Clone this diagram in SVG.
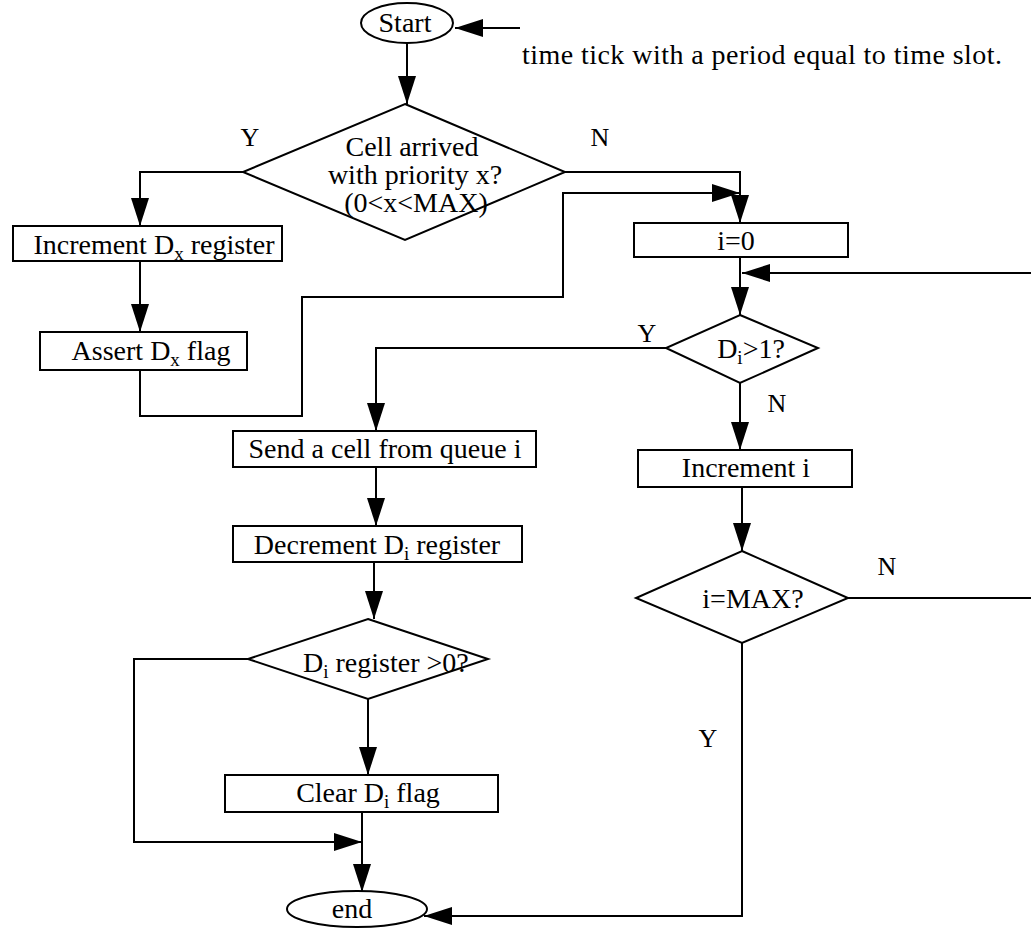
<svg xmlns="http://www.w3.org/2000/svg" width="1031" height="929" viewBox="0 0 1031 929">
  <style>
    .shape { fill: #ffffff; stroke: #000000; stroke-width: 2; }
    .wire { fill: none; stroke: #000000; stroke-width: 2; }
    .txt { font-family: "Liberation Serif", "Times New Roman", serif; font-size: 28px; fill: #000000; }
    .mid { text-anchor: middle; }
    .lbl { font-family: "Liberation Serif", "Times New Roman", serif; font-size: 26px; fill: #000000; text-anchor: middle; }
    .sub { font-size: 19px; }
  </style>
  <defs>
    <marker id="arrow" markerUnits="userSpaceOnUse" markerWidth="28" markerHeight="18" refX="28" refY="9" orient="auto">
      <path d="M0,0 L28,9 L0,18 Z" fill="#000000"/>
    </marker>
  </defs>

  <rect width="1031" height="929" fill="#ffffff"/>

  <!-- connectors -->
  <g id="connectors">
    <path class="wire" d="M520,28 H455" marker-end="url(#arrow)"/>
    <path class="wire" d="M407,43 V104" marker-end="url(#arrow)"/>
    <path class="wire" d="M243,172 H140 V226" marker-end="url(#arrow)"/>
    <path class="wire" d="M140,261 V332" marker-end="url(#arrow)"/>
    <path class="wire" d="M140,370 V416 H302 V297 H563 V193 H740" marker-end="url(#arrow)"/>
    <path class="wire" d="M565,172 H740 V223" marker-end="url(#arrow)"/>
    <path class="wire" d="M740,257 V315" marker-end="url(#arrow)"/>
    <path class="wire" d="M666,348 H376 V431" marker-end="url(#arrow)"/>
    <path class="wire" d="M740,383 V450" marker-end="url(#arrow)"/>
    <path class="wire" d="M742,487 V551" marker-end="url(#arrow)"/>
    <path class="wire" d="M848,598 H1045 V273 H742" marker-end="url(#arrow)"/>
    <path class="wire" d="M376,467 V526" marker-end="url(#arrow)"/>
    <path class="wire" d="M374,562 V619" marker-end="url(#arrow)"/>
    <path class="wire" d="M368,699 V775" marker-end="url(#arrow)"/>
    <path class="wire" d="M248,659 H134 V842 H362" marker-end="url(#arrow)"/>
    <path class="wire" d="M362,812 V892" marker-end="url(#arrow)"/>
    <path class="wire" d="M742,643 V916 H424" marker-end="url(#arrow)"/>
  </g>

  <!-- branch labels -->
  <g id="labels">
    <text class="lbl" x="250" y="146">Y</text>
    <text class="lbl" x="600" y="146">N</text>
    <text class="lbl" x="647" y="342">Y</text>
    <text class="lbl" x="777" y="412">N</text>
    <text class="lbl" x="887" y="575">N</text>
    <text class="lbl" x="708" y="747">Y</text>
  </g>

  <g id="start">
    <ellipse class="shape" cx="407" cy="23" rx="46" ry="20"/>
    <text class="txt mid" x="405" y="32">Start</text>
  </g>

  <g id="tick-note">
    <text class="txt" x="522" y="64" textLength="480" lengthAdjust="spacing">time tick with a period equal to time slot.</text>
  </g>

  <g id="cell-arrived">
    <polygon class="shape" points="405,104 565,172 405,240 243,172"/>
    <text class="txt mid" x="412" y="156" font-size="27">Cell arrived</text>
    <text class="txt mid" x="415" y="184" font-size="27">with priority x?</text>
    <text class="txt mid" x="416" y="212" font-size="27">(0&lt;x&lt;MAX)</text>
  </g>

  <g id="increment-dx">
    <rect class="shape" x="13" y="226" width="269" height="35"/>
    <text class="txt mid" x="154" y="254">Increment D<tspan class="sub" dy="6">x</tspan><tspan dy="-6"> register</tspan></text>
  </g>

  <g id="assert-dx">
    <rect class="shape" x="40" y="332" width="207" height="38"/>
    <text class="txt mid" x="151" y="360">Assert D<tspan class="sub" dy="6">x</tspan><tspan dy="-6"> flag</tspan></text>
  </g>

  <g id="i-zero">
    <rect class="shape" x="634" y="223" width="214" height="34"/>
    <text class="txt mid" x="736" y="250">i=0</text>
  </g>

  <g id="di-gt-1">
    <polygon class="shape" points="740,315 818,348 740,383 666,348"/>
    <text class="txt mid" x="751" y="358">D<tspan class="sub" dy="6">i</tspan><tspan dy="-6">&gt;1?</tspan></text>
  </g>

  <g id="send-cell">
    <rect class="shape" x="233" y="431" width="303" height="36"/>
    <text class="txt mid" x="385" y="458">Send a cell from queue i</text>
  </g>

  <g id="increment-i">
    <rect class="shape" x="638" y="450" width="214" height="37"/>
    <text class="txt mid" x="746" y="477">Increment i</text>
  </g>

  <g id="decrement-di">
    <rect class="shape" x="233" y="526" width="289" height="36"/>
    <text class="txt mid" x="377" y="554">Decrement D<tspan class="sub" dy="6">i</tspan><tspan dy="-6"> register</tspan></text>
  </g>

  <g id="i-max">
    <polygon class="shape" points="742,551 848,598 742,643 636,598"/>
    <text class="txt mid" x="753" y="608">i=MAX?</text>
  </g>

  <g id="di-positive">
    <polygon class="shape" points="368,619 488,659 368,699 248,659"/>
    <text class="txt" x="303" y="672">D<tspan class="sub" dy="6">i</tspan><tspan dy="-6"> register &gt;0?</tspan></text>
  </g>

  <g id="clear-di">
    <rect class="shape" x="225" y="775" width="273" height="37"/>
    <text class="txt mid" x="368" y="802">Clear D<tspan class="sub" dy="6">i</tspan><tspan dy="-6"> flag</tspan></text>
  </g>

  <g id="end">
    <ellipse class="shape" cx="357" cy="909" rx="70" ry="18"/>
    <text class="txt mid" x="352" y="918">end</text>
  </g>
</svg>
